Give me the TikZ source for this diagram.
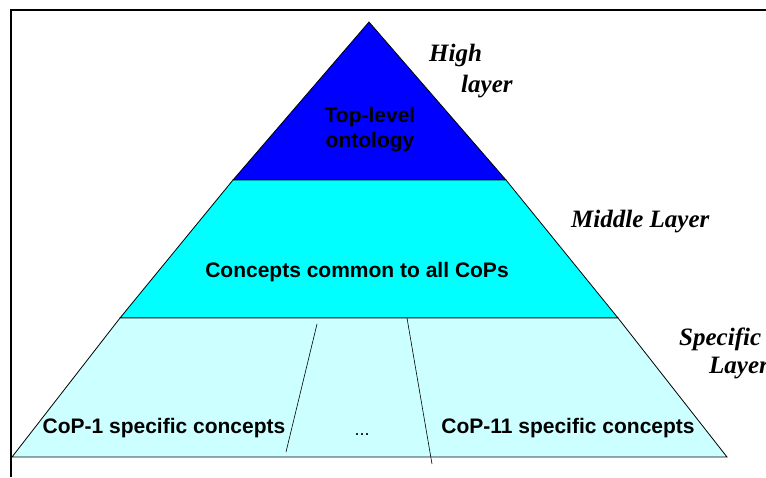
\documentclass[tikz,border=0pt]{standalone}
\usepackage{fontspec}
\setmainfont{Liberation Sans}
\newfontfamily\sidefont{Liberation Serif}
\usetikzlibrary{positioning}

\definecolor{highblue}{RGB}{0,0,255}
\definecolor{midcyan}{RGB}{0,255,255}
\definecolor{lowcyan}{RGB}{204,255,255}

\begin{document}
\begin{tikzpicture}[x=1pt, y=-1pt,
		layer/.style={draw=black, line width=0.8pt},
		layertext/.style={font=\bfseries\fontsize{21}{25}\selectfont, align=center, inner sep=0pt},
		sidelabel/.style={font=\sidefont\bfseries\itshape\fontsize{25}{28}\selectfont, anchor=base west, inner sep=0pt}]
				\useasboundingbox (0,0) rectangle (766,477);
				% outer frame
				\draw[line width=2.2pt] (11,477) -- (11,10) -- (770,10);
				% corners of the pyramid
				\coordinate (apex) at (369,22);
				\coordinate (hl) at (233,180);
				\coordinate (hr) at (506,180);
				\coordinate (ml) at (120,318);
				\coordinate (mr) at (618,318);
				\coordinate (bl) at (12,457);
				\coordinate (br) at (727,457);
				% layers
				\filldraw[layer, fill=highblue] (apex) -- (hr) -- (hl) -- cycle;
				\filldraw[layer, fill=midcyan] (hl) -- (hr) -- (mr) -- (ml) -- cycle;
				\filldraw[layer, fill=lowcyan] (ml) -- (mr) -- (br) -- (bl) -- cycle;
				% dividers in the specific layer
				\coordinate (d1top) at (317,324);
				\coordinate (d1bot) at (286,452);
				\coordinate (d2top) at (407,318);
				\coordinate (d2bot) at (432,464);
				\draw[line width=0.6pt] (d1top) -- (d1bot);
				\draw[line width=0.6pt] (d2top) -- (d2bot);
				% texts inside
				\node[layertext] (top) at (370,130) {Top-level\\ontology};
				\node[layertext, anchor=base] (common) at (357,277) {Concepts common to all CoPs};
				\node[layertext, anchor=base] (cop1) at (164,433) {CoP-1 specific concepts};
				\node[layertext, anchor=base] (cop11) at (568,433) {CoP-11 specific concepts};
				\node[font=\fontsize{18}{18}\selectfont, anchor=base, inner sep=0pt] (dots) at (362,435) {...};
				% layer names
				\node[sidelabel] (high) at (429,61) {High};
				\node[sidelabel] (highb) at (461,92) {layer};
				\node[sidelabel] (middle) at (571,227) {Middle Layer};
				\node[sidelabel] (spec) at (679,345) {Specific};
				\node[sidelabel] (specb) at (709,373) {Layer};
			\end{tikzpicture}
\end{document}
